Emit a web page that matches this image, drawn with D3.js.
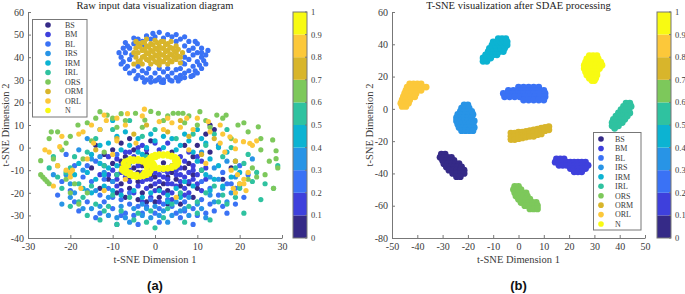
<!DOCTYPE html>
<html>
<head>
<meta charset="utf-8">
<script src="https://cdn.jsdelivr.net/npm/d3@7"></script>
<style>
  body { margin: 0; background: #fff; }
  svg { display: block; font-family: "Liberation Serif", "Times New Roman", serif; }
</style>
</head>
<body>
<svg id="chart" width="685" height="294"></svg>
<script>
// class names and parula-like colours (one per fault class)
const classNames = ['BS', 'BM', 'BL', 'IRS', 'IRM', 'IRL', 'ORS', 'ORM', 'ORL', 'N']
const classColors = ['#352a87', '#3e40dc', '#3a72f5', '#2894e6', '#0cb3d2',
  '#2fc2a0', '#7dc85b', '#d8b52b', '#fcc83a', '#f8fa12']
const cbarTicks = [0, 0.1, 0.2, 0.3, 0.4, 0.5, 0.6, 0.7, 0.8, 0.9, 1]

// ---- panel (a): raw input data, [x, y] in t-SNE units ----
const rawBS = [[-9,-12],[-8,-16],[-7,-4],[-6,-18],[-5,-1],[-4,-15],[-3,-20],[-2,-3],[-1,-17],[0,-13],
  [1,-22],[2,-16],[2,-6.7],[3,-19],[4,-2],[5,-14],[6,-21],[7,-9],[8,-16],[9,-4],[10,-18],[-10,-7],
  [-11,-14],[-12,-3],[-13,-18],[-8,2],[-6,4],[-4,-23],[-2,-24],[0,-24],[3,-25],[6,-25],[11,-10],
  [13,-2],[12,6],[13,10],[14,8],[18,-9],[9,-22],[-15,-9],[-7,-22],[4,-11],[-3,-8],[7,1],[10,1],
  [-1,3],[-14,1],[16,-14],[-9,-20],[-6,-13],[-4,-11],[-1,-12],[3,-13],[6,-17],[8,-7],[-10,-1],
  [-5,-9],[1,-18],[5,-6],[9,-12],[-8,-6]]
const rawBM = [[-10,-10],[-9,-5],[-8,-8],[-8,-19],[-7,-13],[-6,-10],[-6,-15],[-5,-20],[-4,-17],[-3,-15],
  [-2,-18],[-2,-1],[-1,-14],[0,-19],[0,-11],[1,-15],[1,-1],[2,-13],[3,-16],[3,-11],[4,-20],[4,-8],
  [5,-17],[5,-10],[6,-12],[6,-4],[7,-18],[7,-6],[8,-11],[8,-2],[9,-14],[9,-8],[10,-12],[11,-6],
  [-11,-12],[-12,-8],[-9,-17],[-7,-2],[-4,0],[-1,-22],[2,-20],[6,-15],[8,-20],[10,-4],[12,-14],
  [-13,-12],[-5,-4],[3,2],[0,2],[-3,1],[-9,-14],[-7,-9],[-5,-12],[-4,-8],[-3,-11],[-2,-14],[-1,-9],
  [0,-16],[1,-12],[2,-10],[3,-14],[4,-16],[5,-12],[6,-9],[7,-13],[8,-15],[9,-10],[-6,-2],[-10,-15],
  [-8,-11],[4,-23],[1,-24],[-3,-24],[7,-21],[10,-16],[11,-19],[-11,-4],[12,-9]]
const rawBL = [[-23,-21],[-20,-19],[-18,-28],[-16,-24],[-14,-31],[-13,-21],[-12,-24],[-11,-18],[-10,-27],
  [-9,-34],[-8,-23],[-7,-29],[-6,-20],[-4,-34],[-4,-26],[-3,-29],[-1,-23],[1,-33],[1,-27],[3,-23],
  [5,-29],[6,-31],[7,-24],[9,-34],[9,-27],[11,-23],[12,-29],[14,-28],[15,-21],[17,-29],[18,-16],
  [21,-22],[22,-12],[-17,-13],[-14,-6],[-19,-8],[-21,-3],[-15,-15],[11,-15],[13,-18],[16,-11],
  [-9,-3],[19,-25],[-12,-14],[0,-29],[-6,-25],[4,-26],[20,-8],[-22,-15],[-19,-24],[-16,-8],[-13,-29],
  [-8,-30],[-5,-30],[-2,-26],[2,-25],[7,-28],[10,-30],[13,-25],[16,-26],[19,-18],[17,-16],[-10,-22],
  // upper cluster (ring around the ORM core)
  [-8,40],[-7.5,38],[-7,42],[-6.5,36],[-6,44],[-6,39],[-5,34],[-5,46],[-4,32],[-4,36],[-3,31],
  [-3,34],[-2,30],[-2,33],[-1,31],[0,29.5],[0,33],[1,31],[2,30],[2,33.5],[3,31.5],[4,29.5],[4,33],
  [5,31],[6,32],[6,35],[7,33],[7,37],[8,34],[8,39],[9,36],[9,41],[10,38],[10,42],[11,40],[12,41],
  [11,44],[10,46],[9,44],[8,47],[7,45],[6,48],[5,47],[4,49],[3,50],[2,48.5],[1,51],[0,49],[-1,48],
  [-2,49.5],[-3,47],[-4,48],[8,43],[7,40],[-6.5,45],[-7.5,44],[12,37],[11,35],[5,34.5],[-1.5,35],
  [1,35],[3,35],[-5.5,41],[6.5,37.5],[9,32],[-3,45.5],[10,33],[-7,35],[-8.5,42],[-6,33],[-4.5,30.5],
  [-2.5,29],[0.5,30],[1.5,29],[3.5,30],[5.5,29.5],[7,31],[8.5,31.5],[9.5,34],[10.5,36.5],[11.5,38.5],
  [12.5,43],[11,42],[9.5,47],[7,49],[5,50],[-0.5,50.5],[-5,48.5],[-7,46.5],[-8,37],[2,28.8],[6,30.5],[-1,29]]
const rawIRS = [[-22,-25],[-21,-12],[-19,-20],[-17,-10],[-16,-19],[-15,-27],[-13,-26],[-12,-11],[-11,-22],
  [-10,-15],[-9,-31],[-8,-26],[-7,-31],[-5,-27],[-3,-25],[-1,-31],[0,-26],[2,-28],[4,-30],[5,-24],
  [7,-27],[8,-22],[10,-25],[12,-31],[13,-21],[14,-24],[16,-18],[18,-20],[19,-13],[20,-17],[23,-5],
  [-18,-1],[-16,4],[-13,-4],[11,-2],[14,-9],[-20,-16],[-6,-7],[15,1],[17,-6],[-2,-27],[6,-28],
  [-24,-12],[-20,-22],[-17,-27],[-14,-19],[-11,-30],[-6,-33],[-3,-30],[1,-30],[3,-33],[8,-30],
  [11,-27],[15,-14],[17,-24],[13,-13],[-15,-5]]
const rawIRM = [[-16,-11],[-15,-3],[-14,-14],[-13,-7],[-12,-17],[-11,2],[-11,-9],[-10,-19],[-9,5],[-8,-1],
  [-7,-11],[-6,1],[-5,-19],[-4,4],[-3,-22],[-2,0],[-1,-20],[0,3],[1,-19],[2,0],[3,-21],[4,4],
  [5,-18],[6,1],[7,-15],[8,3],[9,-17],[10,-6],[11,4],[12,-12],[13,-5],[14,-14],[15,-8],[16,-17],
  [17,-2],[18,-13],[-17,-18],[-19,-12],[19,-6],[10,8],[-13,8],[20,-11],[-8,-21],[6,-22],[-10,12],[12,2],
  [-18,-7],[-15,-20],[-13,1],[-12,-12],[-9,-8],[-6,-5],[-4,-2],[-1,6],[2,5],[5,-1],[7,6],[9,-2],
  [13,-19],[15,0],[-7,7],[3,-24],[-3,-3]]
const rawIRL = [[-25,-9],[-24,-4],[-22,-18],[-20,-26],[-19,-4],[-17,-22],[-16,-30],[-15,-17],[-14,4],
  [-13,-32],[-12,-8],[-11,-26],[-10,8],[-9,-34],[-8,-28],[-7,-6],[-5,-32],[-4,-29],[-3,5],[-2,-33],
  [0,-35.5],[0,8],[2,-31],[3,-27],[5,4],[7,-33],[8,-26],[9,6],[10,-29],[11,-10],[12,-20],[13,-32],
  [15,-24],[16,-4],[17,-25],[18,0],[19,-22],[20,-18],[21,-29],[22,-3],[24,-11],[25,-23],[26,-16],
  [28,-18],[29,-8],[-21,-11],[-18,-16],[-6,12],[14,6],[17,8],[-2,-4],[-23,-13],[-20,-9],[-18,-24],
  [-14,-25],[-12,-28],[-10,-21],[-6,-22],[-1,-28],[4,-25],[6,-20],[10,-24],[14,-17],[16,-21],
  [19,-9],[21,-7],[23,-15],[12,1],[-16,-2],[-9,-12]]
const rawORS = [[-27,-12],[-26.5,-13],[-26,-14],[-25.5,-15],[-25,-16],[-27,-5.8],[-25,4],[-24.5,7],[-23,7],
  [-20,5],[-22,-1],[-18.2,10],[-16,11],[-15,3],[-13,15.9],[-11.3,14.4],[-10,13],[-8,15],[-4.6,15.2],
  [-2.4,12.2],[-1,16],[0.8,15.2],[3,14],[4.3,15.2],[5.5,15.2],[6.6,15.2],[8,14],[10.6,15.9],[12,12],
  [14.6,14.4],[16.8,14.4],[19.6,10],[22,7],[24.4,9.2],[25,4],[27.8,3.4],[28.6,-1.4],[28.6,-4.9],
  [29,-9],[28,-18],[24,-13],[22,-14],[20,-16],[-21,-14],[-19,-16],[-23,-8],[-17,-5],[-12,-2],
  [-9,9],[-18,-25],[10,10],[18,4],[26,-12],[-24,-5],[-21,2],[-14,13],[-7,12],[-3,9],[2,12],[7,11],
  [13,9],[16,13],[21,11],[23,-9],[25,-1],[27,-6],[-20,-20],[-16,-20]]
const rawORM = [[-2,10],[3,7],[8,5],[-9,4],[11,-3],[-14,-1],[6,12],[14,4],[-5,6],[19,-6],
  // dense core of the upper cluster
  [-5,42],[-4.5,40],[-4.5,44],[-4,38],[-4,46],[-3,37],[-3,40],[-3,43],[-3,46.5],[-2,39],[-2,42],
  [-2,45],[-2,48],[-1,37],[-1,40],[-1,43],[-1,46],[0,38],[0,41],[0,44],[0,47.5],[1,36.5],[1,39],
  [1,42],[1,45],[2,38],[2,41],[2,44],[2,47],[3,37],[3,40],[3,43],[3,46],[4,38],[4,41],[4,44],
  [5,39],[5,42],[5,45],[6,40],[6.5,42],[6,37.5],[-5,37],[-4,42],[-3.5,38.5],[-3.5,44.5],[-2.5,40.5],
  [-2.5,43.5],[-2.5,46.5],[-1.5,38.5],[-1.5,41.5],[-1.5,44.5],[-0.5,39.5],[-0.5,42.5],[-0.5,45.5],
  [0.5,37.5],[0.5,40.5],[0.5,43.5],[0.5,46.5],[1.5,38],[1.5,41],[1.5,44],[1.5,47],[2.5,39.5],
  [2.5,42.5],[2.5,45.5],[3.5,38.5],[3.5,41.5],[3.5,44.5],[4.5,40],[4.5,43],[5.5,40.5],[5.5,43.5],
  [-4.5,47],[3.8,47]]
const rawORL = [[-26,-1],[-25,-2],[-22.5,0.4],[-21,-10],[-20,-11],[-19.5,-10],[-17.5,-18],[-22,5],
  [-14.5,2],[-15,10],[-12,14.4],[-11.5,12],[-7,10],[-6.5,15],[-4.5,2],[-2.5,17],[1,11.5],[2,8],
  [4,11],[7.5,13],[9,8],[12.6,11.5],[15.4,10],[15.4,2],[16.5,-2],[17.7,4.8],[19,-0.5],[20.9,2.6],
  [22.4,1.9],[24,3],[18,-10],[19.5,-12],[21,-14],[20,-16],[22,-11],[18.5,-18],[21.5,-19],[-10,-3],
  [-12,-19],[5,-22],[-7,-14],[-16,-5],[-9,3],[8,-1],[12,-7],[-18,6],[-24,-17],[-23,-8],[-20,-13],
  [-17,7],[-13,8],[-9,13],[-3,14],[3,13],[6,9],[10,13],[13,7],[16,6],[19,3],[23,1],[21,-16],[19,-20]]
const rawN = [[-7.8,-9],[-7.5,-7],[-6.5,-5.5],[-5,-5],[-3,-5.2],[-1.5,-6.5],[-0.8,-8.5],[-1,-10.5],
  [-2,-12.3],[-3.5,-13],[-5.3,-12.8],[-6.8,-11.5],[-7,-8],[-6,-6.5],[-4,-6],[-2.2,-7.5],[-1.8,-11],
  [-3,-12],[-5,-11.8],[-6.5,-10.5],[-7.9,-10],[-7.2,-6],[-5.8,-4.8],[-4,-4.8],[-2.2,-5.8],[-1,-7.5],
  [-0.7,-9.5],[-1.3,-11.7],[-2.7,-12.8],[-4.4,-13.2],[-6.1,-12.3],[-7.4,-10.8],[-6.3,-8],[-5,-6.2],
  [-3,-6.4],[-2,-9],[-2.6,-11],[-4.2,-11.8],[-5.8,-10.8],[-6.8,-9.3],
  [-1.6,-6],[-1.2,-4.2],[0,-3],[2,-2.8],[4,-3.3],[5.3,-4.8],[5.6,-6.8],[4.8,-8.6],[3,-9.5],[1,-9.6],
  [-0.6,-8.6],[-1.4,-7.5],[0.8,-3.8],[3,-3.8],[4.6,-5.8],[4,-8],[2,-8.8],[0,-8],[-0.6,-5],[-0.3,-7],
  [-1.7,-5.2],[-0.7,-3.5],[1,-2.7],[3,-2.7],[4.8,-4],[5.6,-5.8],[5.3,-7.8],[4,-9.2],[2,-9.7],[0,-9.2],
  [-1.1,-8.2],[-0.8,-6.3],[0.2,-4.4],[1.9,-3.7],[3.8,-4.2],[4.9,-7],[3,-8.7],[1,-8.7],[-0.2,-7.6]]

// ---- panel (b): after SDAE, one compact cluster per class ----
const sdaeBS = [[-30.5,-28],[-29,-28],[-31,-30],[-29.5,-30],[-28,-30],[-26.5,-30],[-30,-32],[-28.5,-32],
  [-27,-32],[-25.5,-32],[-29.5,-34],[-28,-34],[-26.5,-34],[-25,-34],[-23.5,-34],[-28.5,-36],[-27,-36],
  [-25.5,-36],[-24,-36],[-22.5,-36],[-27.5,-38],[-26,-38],[-24.5,-38],[-23,-38],[-21.5,-38],[-26,-40],
  [-24.5,-40],[-23,-40],[-21.5,-40],[-24.5,-42],[-23,-42]]
const sdaeBM = [[15,-31],[16.5,-31],[18,-31],[14.5,-33],[16,-33],[17.5,-33],[19,-33],[20.5,-33],[22,-33],
  [23.5,-33],[25,-33],[26.5,-33],[16,-35],[17.5,-35],[19,-35],[20.5,-35],[22,-35],[23.5,-35],[25,-35],
  [26.5,-35],[27.5,-35],[20.5,-37],[22,-37],[23.5,-37],[25,-37],[26.5,-37],[22,-39],[23.5,-39],[25,-39]]
const sdaeBL = [[0,13.5],[2,13.5],[4,13.5],[6,13.5],[8,13.5],[-4,11.5],[-2,11.5],[0,11.5],[2,11.5],
  [4,11.5],[6,11.5],[8,11.5],[10,11.5],[-6,9.5],[-4,9.5],[-2,9.5],[0,9.5],[2,9.5],[4,9.5],[6,9.5],
  [8,9.5],[10.5,9.5],[-5.5,7.5],[-3.5,7.5],[-1.5,7.5],[0.5,7.5],[2.5,7.5],[4.5,7.5],[6.5,7.5],
  [8.5,7.5],[10.5,7.5],[2,5.5],[4,5.5],[6,5.5],[8,5.5],[10,5.5]]
const sdaeIRS = [[-21.5,2.5],[-20,2.5],[-22.5,0.5],[-21,0.5],[-19.5,0.5],[-23,-1.5],[-21.5,-1.5],[-20,-1.5],
  [-18.5,-1.5],[-24,-3.5],[-22.5,-3.5],[-21,-3.5],[-19.5,-3.5],[-18,-3.5],[-24.5,-5.5],[-23,-5.5],
  [-21.5,-5.5],[-20,-5.5],[-18.5,-5.5],[-24.5,-7.5],[-23,-7.5],[-21.5,-7.5],[-20,-7.5],[-18.5,-7.5],
  [-17.5,-7.5],[-24,-9.5],[-22.5,-9.5],[-21,-9.5],[-19.5,-9.5],[-18,-9.5],[-23.5,-11.5],[-22,-11.5],
  [-20.5,-11.5],[-19,-11.5],[-17.5,-11.5],[-22.5,-13.5],[-21,-13.5],[-19.5,-13.5],[-18,-13.5]]
const sdaeIRM = [[-14,29.5],[-12.5,29.5],[-14,31.5],[-12.5,31.5],[-11,31.5],[-13,33.5],[-11.5,33.5],
  [-10,33.5],[-8.5,33.5],[-12,35.5],[-10.5,35.5],[-9,35.5],[-7.5,35.5],[-6,35.5],[-11.5,37.5],
  [-10,37.5],[-8.5,37.5],[-7,37.5],[-5.5,37.5],[-10.5,39.5],[-9,39.5],[-7.5,39.5],[-6,39.5],
  [-4.5,39.5],[-10,41.5],[-8.5,41.5],[-7,41.5],[-5.5,41.5],[-4.5,41.5],[-8,43.5],[-6.5,43.5],[-5,43.5]]
const sdaeIRL = [[42.5,3.5],[44,3.5],[41.5,1.5],[43,1.5],[44.5,1.5],[40.5,-0.5],[42,-0.5],[43.5,-0.5],
  [39.5,-2.5],[41,-2.5],[42.5,-2.5],[44,-2.5],[38.5,-4.5],[40,-4.5],[41.5,-4.5],[43,-4.5],[37.5,-6.5],
  [39,-6.5],[40.5,-6.5],[42,-6.5],[37,-8.5],[38.5,-8.5],[40,-8.5],[41,-8.5],[37,-10.5],[38.5,-10.5],
  [39.5,-10.5],[38,-12]]
const sdaeORS = [[-1.5,-48],[0,-48],[-2,-50],[-0.5,-50],[1,-50],[-1.5,-52],[0,-52],[1.5,-52],[3,-52],
  [-1,-54],[0.5,-54],[2,-54],[3.5,-54],[0,-56],[1.5,-56],[3,-56],[4.5,-56],[1,-58],[2.5,-58],[4,-58],
  [5.5,-58],[7,-58],[2.5,-60],[4,-60],[5.5,-60],[7.5,-60],[4.5,-62],[6,-62],[7.5,-62]]
const sdaeORM = [[-3,-15],[-3,-17],[-3,-19],[-1.5,-15],[-1.5,-17],[-1.5,-19],[0,-14.5],[0,-16.5],[0,-18.5],
  [1.5,-14.5],[1.5,-16.5],[1.5,-18],[3,-14],[3,-16],[3,-17.5],[4.5,-13.5],[4.5,-15.5],[4.5,-17],
  [6,-13],[6,-15],[6,-17],[7.5,-12.5],[7.5,-14.5],[7.5,-16],[9,-12],[9,-14],[9,-15.5],[10.5,-11.5],
  [10.5,-13.5],[12,-11],[12,-13]]
const sdaeORL = [[-43,15.5],[-41.5,15.5],[-40,15.5],[-38.5,15.5],[-44,13.5],[-42.5,13.5],[-41,13.5],
  [-39.5,13.5],[-38,13.5],[-36.5,13.5],[-44.5,11.5],[-43,11.5],[-41.5,11.5],[-40,11.5],[-38.5,11.5],
  [-45,9.5],[-43.5,9.5],[-42,9.5],[-40.5,9.5],[-45.5,7.5],[-44,7.5],[-42.5,7.5],[-41,7.5],[-46,5.5],
  [-44.5,5.5],[-43,5.5],[-46.5,3.5],[-45,3.5],[-43.5,3.5],[-46,1.5],[-44.5,1.5]]
const sdaeN = [[28,33],[29.5,33],[31,33],[27,31],[28.5,31],[30,31],[31.5,31],[26.5,29],[28,29],[29.5,29],
  [31,29],[32.5,29],[26,27],[27.5,27],[29,27],[30.5,27],[32,27],[33,27],[26,25],[27.5,25],[29,25],
  [30.5,25],[32,25],[26.5,23],[28,23],[29.5,23],[31,23],[27,21],[28.5,21],[30,21],[31,21],[28,19],
  [29.5,19],[30.5,19],[29,17.5],[30,17.5]]

const rawSeries = [rawBS, rawBM, rawBL, rawIRS, rawIRM, rawIRL, rawORS, rawORM, rawORL, rawN]
const sdaeSeries = [sdaeBS, sdaeBM, sdaeBL, sdaeIRS, sdaeIRM, sdaeIRL, sdaeORS, sdaeORM, sdaeORL, sdaeN]

const axisColor = '#777'
const textColor = '#3a3a3a'
const svg = d3.select('#chart')

function drawPanel (cfg) {
  let x = d3.scaleLinear().domain(cfg.xDomain).range([cfg.left, cfg.right])
  let y = d3.scaleLinear().domain(cfg.yDomain).range([cfg.bottom, cfg.top])
  let g = svg.append('g')

  // points, class by class
  cfg.series.forEach((pts, k) => {
    g.append('g').selectAll('circle')
      .data(pts).enter()
      .append('circle')
      .attr('cx', (d) => x(d[0]))
      .attr('cy', (d) => y(d[1]))
      .attr('r', cfg.dotR)
      .attr('fill', classColors[k])
  })

  // axes (left + bottom only, ticks pointing inward)
  let fmt = (d) => String(d)
  let yAxis = g.append('g').attr('transform', `translate(${cfg.left},0)`)
    .call(d3.axisLeft(y).tickValues(cfg.yTicks).tickFormat(fmt).tickSize(-3).tickSizeOuter(0).tickPadding(4))
  let xAxis = g.append('g').attr('transform', `translate(0,${cfg.bottom})`)
    .call(d3.axisBottom(x).tickValues(cfg.xTicks).tickFormat(fmt).tickSize(-3).tickSizeOuter(0).tickPadding(5))
  ;[xAxis, yAxis].forEach((a) => {
    a.selectAll('path, line').attr('stroke', axisColor)
    a.selectAll('text').attr('fill', textColor)
      .style('font-size', '10px').style('font-family', '"Liberation Serif", serif')
  })

  let cx = (cfg.left + cfg.right) / 2
  g.append('text').attr('x', cx).attr('y', 9)
    .attr('text-anchor', 'middle').style('font-size', '10.5px').attr('fill', '#222')
    .text(cfg.title)
  g.append('text').attr('x', cx).attr('y', 263)
    .attr('text-anchor', 'middle').style('font-size', '10.5px').attr('fill', textColor)
    .text('t-SNE Dimension 1')
  g.append('text')
    .attr('transform', `translate(${cfg.yLabelX},${(cfg.top + cfg.bottom) / 2}) rotate(-90)`)
    .attr('text-anchor', 'middle').style('font-size', '10.5px').attr('fill', textColor)
    .text('t-SNE Dimension 2')
  g.append('text').attr('x', cx).attr('y', 290)
    .attr('text-anchor', 'middle')
    .style('font-family', '"Liberation Sans", Arial, sans-serif')
    .style('font-weight', 'bold').style('font-size', '13px').attr('fill', '#111')
    .text(cfg.tag)

  // legend
  let lg = g.append('g')
  let L = cfg.legend
  lg.append('rect').attr('x', L.x).attr('y', L.y).attr('width', L.w).attr('height', L.h)
    .attr('fill', '#fff').attr('stroke', axisColor).attr('stroke-width', 1)
  classNames.forEach((name, k) => {
    let ry = L.y + L.first + k * L.step
    lg.append('circle').attr('cx', L.markX).attr('cy', ry).attr('r', 2.8).attr('fill', classColors[k])
    lg.append('text').attr('x', L.textX).attr('y', ry).attr('dy', '0.35em')
      .style('font-size', '8px').attr('fill', textColor).text(name)
  })

  // discrete colour bar
  let cb = cfg.cbar
  let cy = d3.scaleLinear().domain([0, 1]).range([cfg.bottom, cfg.top])
  let cg = g.append('g')
  classColors.forEach((c, k) => {
    cg.append('rect').attr('x', cb.x).attr('width', cb.w)
      .attr('y', cy((k + 1) / 10)).attr('height', cy(k / 10) - cy((k + 1) / 10))
      .attr('fill', c)
  })
  cg.append('rect').attr('x', cb.x).attr('y', cfg.top).attr('width', cb.w)
    .attr('height', cfg.bottom - cfg.top).attr('fill', 'none').attr('stroke', axisColor)
  cbarTicks.forEach((t) => {
    cg.append('line').attr('x1', cb.x + cb.w).attr('x2', cb.x + cb.w - 2)
      .attr('y1', cy(t)).attr('y2', cy(t)).attr('stroke', axisColor)
    cg.append('text').attr('x', cb.x + cb.w + 4).attr('y', cy(t)).attr('dy', '0.35em')
      .style('font-size', '8.5px').attr('fill', textColor).text(String(t))
  })
}

drawPanel({
  series: rawSeries, dotR: 2.6,
  left: 28, right: 282, top: 12, bottom: 238,
  xDomain: [-30, 30], yDomain: [-40, 60],
  xTicks: [-30, -20, -10, 0, 10, 20, 30],
  yTicks: [-40, -30, -20, -10, 0, 10, 20, 30, 40, 50, 60],
  title: 'Raw input data visualization diagram', tag: '(a)', yLabelX: 9,
  legend: {x: 32.5, y: 19.5, w: 54.5, h: 97.5, first: 5.5, step: 9.5, markX: 48, textX: 65},
  cbar: {x: 293, w: 14}
})

drawPanel({
  series: sdaeSeries, dotR: 3.4,
  left: 392, right: 645, top: 12, bottom: 238,
  xDomain: [-50, 50], yDomain: [-80, 60],
  xTicks: [-50, -40, -30, -20, -10, 0, 10, 20, 30, 40, 50],
  yTicks: [-80, -60, -40, -20, 0, 20, 40, 60],
  title: 'T-SNE visualization after SDAE processing', tag: '(b)', yLabelX: 373,
  legend: {x: 593.5, y: 132.5, w: 47.5, h: 97.5, first: 6.5, step: 9.45, markX: 601, textX: 615},
  cbar: {x: 657, w: 14}
})
</script>
</body>
</html>
